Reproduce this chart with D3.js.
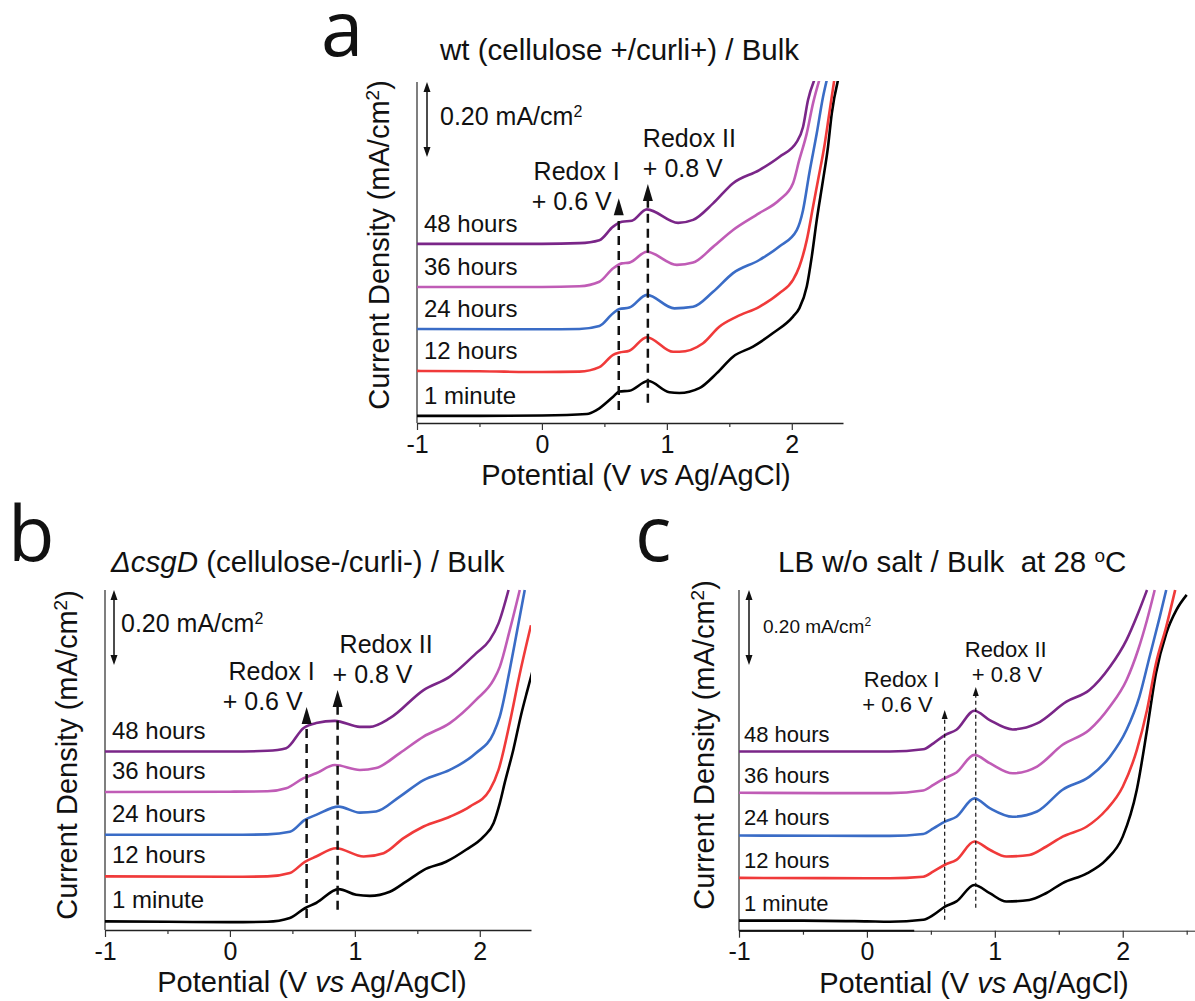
<!DOCTYPE html>
<html>
<head>
<meta charset="utf-8">
<script src="https://cdn.jsdelivr.net/npm/d3@7"></script>
<style>
  body { margin: 0; background: #fff; }
  svg { display: block; font-family: "Liberation Sans", Arial, sans-serif; }
</style>
</head>
<body>
<svg id="fig" width="1195" height="1001"></svg>
<script>
// ---- data: [potential (V vs Ag/AgCl), current density (mA/cm2), curves offset as plotted]
var seriesNames = ["1 minute", "12 hours", "24 hours", "36 hours", "48 hours"];
var colors = ["#000000", "#f03a3a", "#3a6cc6", "#c05cb6", "#7a2688"];

// a: wt (cellulose+/curli+)
var wt1min = [[-1,0],[-0.5,0],[0,0.001],[0.36,0.005],[0.44,0.016],[0.57,0.051],[0.62,0.065],[0.70,0.067],[0.85,0.093],[1.02,0.063],[1.10,0.061],[1.26,0.074],[1.40,0.114],[1.53,0.158],[1.69,0.185],[1.85,0.221],[2.01,0.265],[2.06,0.287],[2.12,0.345],[2.16,0.425],[2.20,0.523],[2.25,0.629],[2.29,0.718],[2.32,0.807],[2.37,0.896]];
var wt12h = [[-1,0.120],[-0.5,0.119],[0,0.117],[0.3,0.118],[0.46,0.130],[0.57,0.163],[0.62,0.169],[0.70,0.174],[0.84,0.210],[1.05,0.171],[1.10,0.171],[1.29,0.194],[1.42,0.238],[1.56,0.265],[1.74,0.291],[1.90,0.327],[2.01,0.363],[2.06,0.398],[2.12,0.469],[2.17,0.558],[2.21,0.629],[2.26,0.718],[2.30,0.807],[2.34,0.896]];
var wt24h = [[-1,0.232],[0,0.231],[0.3,0.232],[0.46,0.240],[0.57,0.274],[0.62,0.285],[0.70,0.289],[0.84,0.323],[1.06,0.287],[1.21,0.291],[1.37,0.331],[1.53,0.381],[1.74,0.416],[1.90,0.452],[2.04,0.496],[2.09,0.549],[2.14,0.647],[2.20,0.754],[2.25,0.851],[2.28,0.896]];
var wt36h = [[-1,0.344],[0,0.344],[0.3,0.346],[0.46,0.358],[0.57,0.394],[0.64,0.407],[0.70,0.409],[0.84,0.438],[1.08,0.403],[1.21,0.409],[1.37,0.451],[1.53,0.496],[1.74,0.541],[1.90,0.576],[2.01,0.621],[2.06,0.683],[2.12,0.754],[2.17,0.834],[2.22,0.896]];
var wt48h = [[-1,0.459],[0,0.459],[0.3,0.461],[0.46,0.469],[0.57,0.505],[0.64,0.518],[0.72,0.521],[0.84,0.551],[1.09,0.515],[1.21,0.523],[1.37,0.567],[1.53,0.621],[1.74,0.656],[1.90,0.691],[2.04,0.731],[2.09,0.771],[2.13,0.843],[2.18,0.896]];

// b: delta csgD (cellulose-/curli-)
var csg1min = [[-1,0],[-0.5,-0.001],[0,-0.002],[0.3,-0.001],[0.48,0.009],[0.60,0.035],[0.69,0.049],[0.87,0.086],[1.01,0.071],[1.12,0.068],[1.28,0.079],[1.41,0.106],[1.55,0.137],[1.73,0.159],[1.89,0.191],[2.03,0.226],[2.11,0.262],[2.16,0.315],[2.20,0.370],[2.27,0.460],[2.33,0.550],[2.38,0.615],[2.42,0.665]];
var csg12h = [[-1,0.120],[0,0.119],[0.3,0.120],[0.48,0.129],[0.60,0.159],[0.69,0.173],[0.85,0.195],[1.07,0.173],[1.23,0.182],[1.39,0.222],[1.55,0.253],[1.76,0.279],[1.92,0.306],[2.08,0.351],[2.15,0.404],[2.24,0.530],[2.32,0.660],[2.41,0.790]];
var csg24h = [[-1,0.231],[0,0.231],[0.3,0.232],[0.48,0.239],[0.60,0.271],[0.69,0.284],[0.87,0.306],[1.04,0.290],[1.17,0.293],[1.36,0.333],[1.55,0.377],[1.76,0.404],[1.97,0.449],[2.11,0.502],[2.16,0.546],[2.24,0.671],[2.30,0.777],[2.36,0.884]];
var csg36h = [[-1,0.345],[0,0.346],[0.3,0.347],[0.45,0.355],[0.59,0.382],[0.69,0.395],[0.84,0.417],[1.04,0.404],[1.17,0.409],[1.36,0.449],[1.55,0.493],[1.76,0.529],[1.97,0.591],[2.11,0.644],[2.16,0.679],[2.24,0.777],[2.32,0.884]];
var csg48h = [[-1,0.453],[0,0.453],[0.3,0.455],[0.45,0.462],[0.59,0.516],[0.69,0.529],[0.84,0.535],[1.04,0.519],[1.12,0.519],[1.28,0.542],[1.55,0.617],[1.76,0.653],[1.97,0.715],[2.08,0.751],[2.15,0.795],[2.23,0.884]];

// c: LB w/o salt at 28 C
var lb1min = [[-1,0],[-0.5,0],[0,-0.002],[0.18,-0.003],[0.44,0.002],[0.52,0.015],[0.61,0.037],[0.70,0.051],[0.84,0.095],[0.96,0.073],[1.09,0.051],[1.27,0.055],[1.40,0.073],[1.53,0.100],[1.72,0.126],[1.87,0.162],[2.00,0.224],[2.11,0.349],[2.19,0.509],[2.26,0.660],[2.34,0.766],[2.42,0.829],[2.50,0.869]];
var lb12h = [[-1,0.114],[0,0.113],[0.18,0.113],[0.44,0.117],[0.52,0.131],[0.61,0.149],[0.70,0.162],[0.84,0.211],[0.96,0.189],[1.09,0.171],[1.27,0.175],[1.40,0.197],[1.53,0.224],[1.72,0.251],[1.87,0.295],[2.00,0.357],[2.11,0.455],[2.19,0.562],[2.26,0.686],[2.34,0.784],[2.41,0.882]];
var lb24h = [[-1,0.227],[0,0.226],[0.18,0.226],[0.44,0.231],[0.52,0.246],[0.61,0.264],[0.70,0.277],[0.84,0.326],[0.96,0.300],[1.14,0.277],[1.33,0.291],[1.53,0.349],[1.74,0.384],[1.90,0.437],[2.03,0.509],[2.13,0.597],[2.21,0.704],[2.29,0.811],[2.34,0.882]];
var lb36h = [[-1,0.341],[0,0.340],[0.18,0.340],[0.44,0.347],[0.52,0.362],[0.61,0.380],[0.70,0.395],[0.84,0.442],[0.96,0.420],[1.14,0.393],[1.33,0.411],[1.53,0.469],[1.74,0.509],[1.90,0.571],[2.03,0.642],[2.12,0.722],[2.19,0.802],[2.25,0.882]];
var lb48h = [[-1,0.451],[0,0.451],[0.18,0.451],[0.44,0.457],[0.52,0.473],[0.61,0.495],[0.70,0.509],[0.84,0.560],[0.96,0.535],[1.14,0.510],[1.33,0.526],[1.56,0.584],[1.74,0.615],[1.90,0.677],[2.03,0.749],[2.12,0.820],[2.19,0.882]];

var potentialTicks = [-1, -0.5, 0, 0.5, 1, 1.5, 2];
var potentialTicksC = [-1, -0.5, 0, 0.5, 1, 1.5, 2, 2.5];
var scaleBarValue = 0.20;
// redox markers: [potential, line bottom, arrow tip] in plot units
var wtMarkers = [[0.615, 0.016, 0.581], [0.848, 0.035, 0.619]];
var csgMarkers = [[0.614, 0.009, 0.572], [0.862, 0.031, 0.617]];
var lbMarkers = [[0.608, 0.002, 0.562], [0.851, 0.034, 0.623]];

var svg = d3.select("#fig");

// ---- layout of the three panels
var panels = [
  { letter: "a", letterPos: [321, 56],
    series: [wt1min, wt12h, wt24h, wt36h, wt48h],
    xr: [417, 843], xd: [-1, 2.41], yr: [423, 82], yd: [-0.019, 0.891],
    ticks: potentialTicks, markers: wtMarkers, heavyTo: null,
    title: [{t: "wt (cellulose +/curli+) / Bulk"}], titlePos: [440, 60],
    yTitlePos: [389, 245], xTitlePos: [636, 485], tickY: 30,
    labelSize: 24, labelDx: 7, labelDy: -12,
    sbDx: 10, sbTextDx: 23, sbTextDy: 43, sbSize: 25,
    redoxSize: 25, dash: "9,6", markW: 2.5, head: [5, 17],
    redoxText: [[1, -18, -7, 12], [-5, -37, -5, -7]] },
  { letter: "b", letterPos: [8, 561],
    series: [csg1min, csg12h, csg24h, csg36h, csg48h],
    xr: [105, 531], xd: [-1, 2.41], yr: [930, 590], yd: [-0.023, 0.884],
    ticks: potentialTicks, markers: csgMarkers, heavyTo: null,
    title: [{t: "ΔcsgD", it: true}, {t: " (cellulose-/curli-) / Bulk"}], titlePos: [111, 572],
    yTitlePos: [77, 755], xTitlePos: [312, 992], tickY: 30,
    labelSize: 24, labelDx: 7, labelDy: -13,
    sbDx: 9, sbTextDx: 16, sbTextDy: 42, sbSize: 25,
    redoxSize: 25, dash: "9,6", markW: 2.5, head: [5, 17],
    redoxText: [[8, -27, -4, 3], [2, -37, -5, -7]] },
  { letter: "c", letterPos: [635, 561],
    series: [lb1min, lb12h, lb24h, lb36h, lb48h],
    xr: [739, 1195], xd: [-1, 2.565], yr: [930.7, 590], yd: [-0.027, 0.882],
    ticks: potentialTicksC, markers: lbMarkers, heavyTo: 0.37,
    title: [{t: "LB w/o salt / Bulk  at 28 "}, {t: "o", sup: true}, {t: "C"}], titlePos: [778, 572],
    yTitlePos: [714, 745], xTitlePos: [974, 993], tickY: 29,
    labelSize: 22, labelDx: 5, labelDy: -10,
    sbDx: 10, sbTextDx: 24, sbTextDy: 43, sbSize: 19,
    redoxSize: 22, dash: "4,3", markW: 1.2, head: [3, 9],
    redoxText: [[-5, -23, -12, 2], [-11, -30, -4, -5]] }
];

var line = d3.line().curve(d3.curveMonotoneX);

panels.forEach(function(p, pi) {
  var x = d3.scaleLinear().domain(p.xd).range(p.xr);
  var y = d3.scaleLinear().domain(p.yd).range(p.yr);
  var g = svg.append("g");

  // panel letter
  g.append("text")
      .attr("x", p.letterPos[0]).attr("y", p.letterPos[1])
      .style("font-family", "'Open Sans', sans-serif")
      .style("font-size", "76px").attr("fill", "#111")
      .text(p.letter);

  // title
  var tt = g.append("text")
      .attr("x", p.titlePos[0]).attr("y", p.titlePos[1])
      .style("font-size", "29.5px").style("white-space", "pre").attr("fill", "#111");
  p.title.forEach(function(s) {
    var ts = tt.append("tspan").text(s.t);
    if (s.it) ts.style("font-style", "italic");
    if (s.sup) ts.attr("baseline-shift", "super").style("font-size", "19px");
  });

  // y axis (plain line) and x axis
  g.append("line")
      .attr("x1", p.xr[0]).attr("x2", p.xr[0])
      .attr("y1", p.yr[1]).attr("y2", p.yr[0])
      .attr("stroke", "#555").attr("stroke-width", 1.5);

  var xAxis = g.append("g")
      .attr("transform", "translate(0," + p.yr[0] + ")")
      .call(d3.axisBottom(x).tickValues(p.ticks).tickSize(7).tickSizeOuter(0)
        .tickFormat(function(d) { return Number.isInteger(d) ? String(d) : ""; }));
  xAxis.select(".domain").attr("stroke", "#222").attr("stroke-width", p.heavyTo === null ? 1.5 : 1);
  xAxis.selectAll(".tick line").attr("stroke", "#333").attr("stroke-width", 1.2)
      .attr("y2", function(d) { return Number.isInteger(d) ? 7 : 4; });
  xAxis.selectAll(".tick text")
      .attr("dy", null).attr("y", p.tickY)
      .style("font-size", "25px").attr("fill", "#111")
      .style("font-family", "'Liberation Sans', Arial, sans-serif");
  if (p.heavyTo !== null) {
    // left part of the axis line is drawn heavier in panel c
    xAxis.append("line").attr("x1", p.xr[0]).attr("x2", x(p.heavyTo))
        .attr("stroke", "#111").attr("stroke-width", 2);
  }

  // axis titles
  var xt = g.append("text")
      .attr("x", p.xTitlePos[0]).attr("y", p.xTitlePos[1])
      .attr("text-anchor", "middle").style("font-size", "29px").attr("fill", "#111");
  xt.append("tspan").text("Potential (V ");
  xt.append("tspan").style("font-style", "italic").text("vs");
  xt.append("tspan").text(" Ag/AgCl)");

  var yt = g.append("text")
      .attr("transform", "translate(" + p.yTitlePos[0] + "," + p.yTitlePos[1] + ") rotate(-90)")
      .attr("text-anchor", "middle").style("font-size", "29px").attr("fill", "#111");
  yt.append("tspan").text("Current Density (mA/cm");
  yt.append("tspan").attr("baseline-shift", "super").style("font-size", "19px").text("2");
  yt.append("tspan").text(")");

  // curves
  var clipId = "clip" + pi;
  g.append("clipPath").attr("id", clipId).append("rect")
      .attr("x", p.xr[0]).attr("y", p.yr[1] - 1)
      .attr("width", p.xr[1] - p.xr[0]).attr("height", p.yr[0] - p.yr[1]);
  line.x(function(d) { return x(d[0]); }).y(function(d) { return y(d[1]); });
  g.append("g").attr("clip-path", "url(#" + clipId + ")")
    .selectAll("path").data(p.series).enter().append("path")
      .attr("d", line)
      .attr("fill", "none")
      .attr("stroke", function(d, i) { return colors[i]; })
      .attr("stroke-width", 2.6)
      .attr("stroke-linejoin", "round");

  // series labels
  g.selectAll("text.lab").data(p.series).enter().append("text")
      .attr("class", "lab")
      .attr("x", p.xr[0] + p.labelDx)
      .attr("y", function(d) { return y(d[0][1]) + p.labelDy; })
      .style("font-size", p.labelSize + "px").attr("fill", "#111")
      .text(function(d, i) { return seriesNames[i]; });

  // scale bar (double arrow)
  var sbx = p.xr[0] + p.sbDx,
      sbTop = y(p.yd[1]), sbBot = y(p.yd[1] - scaleBarValue);
  g.append("line").attr("x1", sbx).attr("x2", sbx).attr("y1", sbTop + 6).attr("y2", sbBot - 6)
      .attr("stroke", "#111").attr("stroke-width", 1.5);
  g.append("path").attr("fill", "#111")
      .attr("d", "M" + sbx + "," + sbTop + "l-3.5,10h7z M" + sbx + "," + sbBot + "l-3.5,-10h7z");
  var sbt = g.append("text").attr("x", p.xr[0] + p.sbTextDx).attr("y", sbTop + p.sbTextDy)
      .style("font-size", p.sbSize + "px").attr("fill", "#111");
  sbt.append("tspan").text("0.20 mA/cm");
  sbt.append("tspan").attr("baseline-shift", "super").style("font-size", Math.round(p.sbSize * 0.65) + "px").text("2");

  // redox markers: dashed line + arrow head
  p.markers.forEach(function(m) {
    var mx = x(m[0]), tip = y(m[2]);
    g.append("line").attr("x1", mx).attr("x2", mx)
        .attr("y1", y(m[1])).attr("y2", tip + p.head[1])
        .attr("stroke", "#111").attr("stroke-width", p.markW)
        .attr("stroke-dasharray", p.dash);
    g.append("path").attr("fill", "#111")
        .attr("d", "M" + mx + "," + tip + "l" + (-p.head[0]) + "," + p.head[1] + "h" + (2 * p.head[0]) + "z");
  });

  var rI = p.markers[0], rII = p.markers[1], rt = p.redoxText;
  var redox = [
    {t: "Redox I", x: x(rI[0]) + rt[0][0], y: y(rI[2]) + rt[0][1], a: "end"},
    {t: "+ 0.6 V", x: x(rI[0]) + rt[0][2], y: y(rI[2]) + rt[0][3], a: "end"},
    {t: "Redox II", x: x(rII[0]) + rt[1][0], y: y(rII[2]) + rt[1][1], a: "start"},
    {t: "+ 0.8 V", x: x(rII[0]) + rt[1][2], y: y(rII[2]) + rt[1][3], a: "start"}
  ];
  g.selectAll("text.redox").data(redox).enter().append("text")
      .attr("class", "redox")
      .attr("x", function(d) { return d.x; }).attr("y", function(d) { return d.y; })
      .attr("text-anchor", function(d) { return d.a; })
      .style("font-size", p.redoxSize + "px").attr("fill", "#111")
      .text(function(d) { return d.t; });
});
</script>
</body>
</html>
